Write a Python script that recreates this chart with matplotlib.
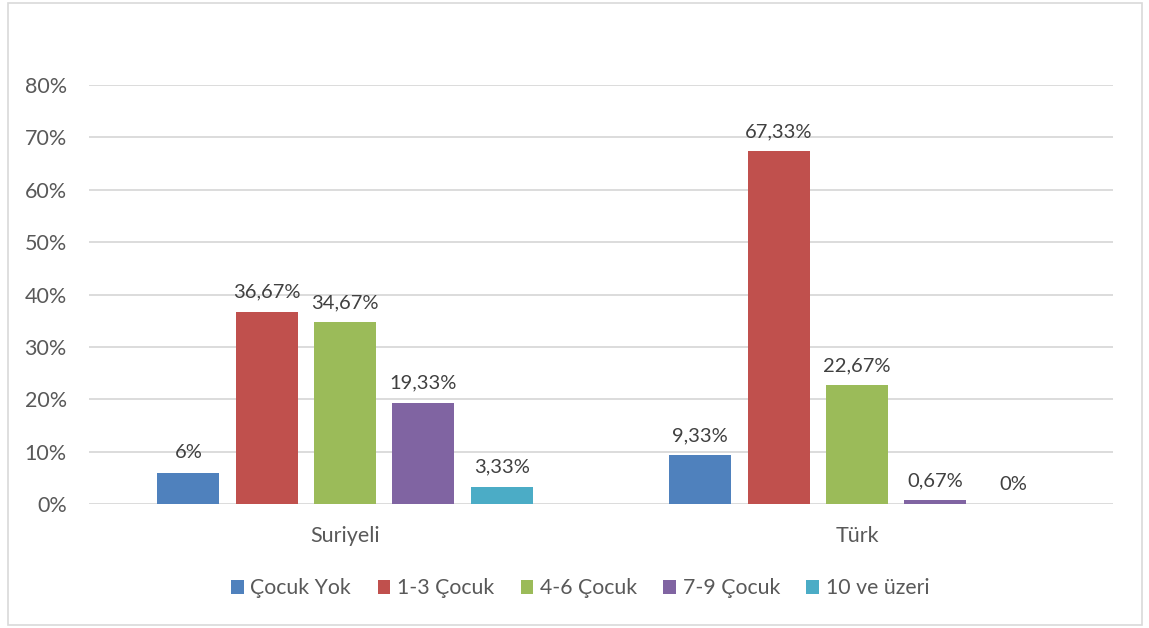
import numpy as np
import matplotlib.pyplot as plt
from matplotlib.patches import Rectangle
from matplotlib.ticker import FuncFormatter

groups = ['Suriyeli', 'Türk']
series = ['Çocuk Yok', '1-3 Çocuk', '4-6 Çocuk', '7-9 Çocuk', '10 ve üzeri']
values = [
    [6, 9.33],
    [36.67, 67.33],
    [34.67, 22.67],
    [19.33, 0.67],
    [3.33, 0],
]
labels = [
    ['6%', '9,33%'],
    ['36,67%', '67,33%'],
    ['34,67%', '22,67%'],
    ['19,33%', '0,67%'],
    ['3,33%', '0%'],
]
colors = ['#4F81BD', '#C0504D', '#9BBB59', '#8064A2', '#4BACC6']

plt.rcParams['font.family'] = ['Lato', 'DejaVu Sans']
txt = '#595959'

fig = plt.figure(figsize=(11.49, 6.28), dpi=100)
ax = fig.add_axes([0.0775, 0.1975, 0.8912, 0.6671])

x = np.arange(len(groups))
w = 0.121
step = 0.153
for i, (s, v) in enumerate(zip(series, values)):
    pos = x + (i - 2) * step
    ax.bar(pos, v, w, color=colors[i], label=s, zorder=3)
    for p, val, lab in zip(pos, v, labels[i]):
        ax.annotate(lab, (p, val), xytext=(0, 8), textcoords='offset points',
                    ha='center', va='bottom', fontsize=14.5, color='#404040')

ax.set_xlim(-0.5, 1.5)
ax.set_ylim(0, 80)
ax.set_yticks(np.arange(0, 81, 10))
ax.yaxis.set_major_formatter(FuncFormatter(lambda v, p: f'{v:.0f}%'))
ax.set_xticks(x)
ax.set_xticklabels(groups)
ax.grid(axis='y', color='#D9D9D9', linewidth=1.3, zorder=0)
for sp in ax.spines.values():
    sp.set_visible(False)
ax.tick_params(axis='both', length=0, labelsize=15.5, colors=txt)
ax.tick_params(axis='y', pad=16)
ax.tick_params(axis='x', pad=16)

leg = fig.legend(loc='center', bbox_to_anchor=(0.505, 0.063), ncol=5, frameon=False,
                 fontsize=15.3, handlelength=0.6, handleheight=0.6, handletextpad=0.3,
                 columnspacing=1.25)
for t in leg.get_texts():
    t.set_color(txt)

fig.patches.append(Rectangle((8 / 1149, 3 / 628), 1134 / 1149, 622 / 628,
                             transform=fig.transFigure, fill=False,
                             edgecolor='#D9D9D9', linewidth=1.2))

fig.savefig('out.png', dpi=100)
